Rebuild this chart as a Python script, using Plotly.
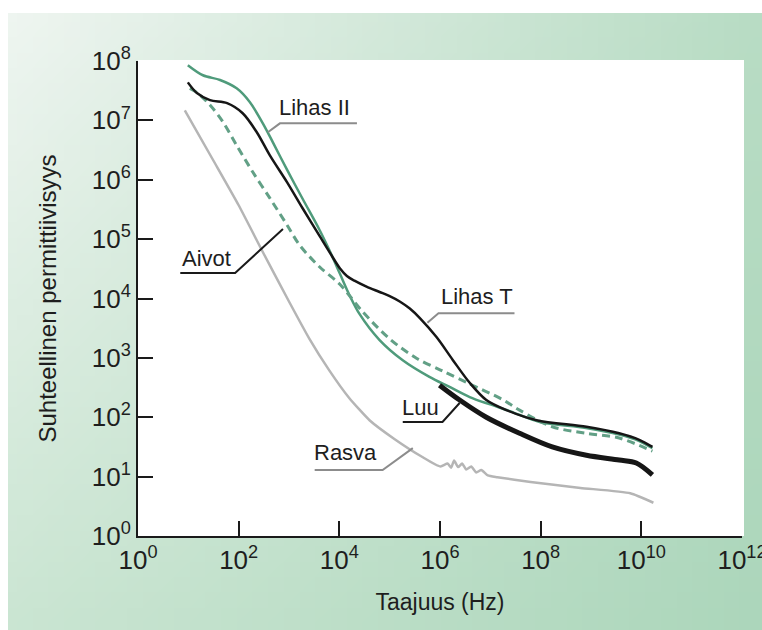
import base64
import struct
import zlib

import numpy as np
import plotly.graph_objects as go

# ---------------- data (log10 of frequency in Hz, log10 of relative permittivity) ----------------
lihas2_logf = [0.99, 1.29, 1.63, 1.96, 2.22, 2.48, 2.68, 2.96, 3.27, 3.61, 3.81, 4.01, 4.20, 4.40,
               4.80, 5.26, 5.79, 6.19, 6.59, 6.98, 7.40, 7.98, 8.90, 9.56, 9.96, 10.22]
lihas2_loge = [7.93, 7.76, 7.68, 7.54, 7.31, 6.95, 6.63, 6.17, 5.68, 5.15, 4.80, 4.42, 4.06, 3.74,
               3.30, 2.96, 2.68, 2.51, 2.34, 2.22, 2.10, 1.92, 1.82, 1.71, 1.60, 1.48]

lihast_logf = [0.99, 1.17, 1.43, 1.77, 2.08, 2.36, 2.62, 2.96, 3.27, 3.61, 3.85, 4.01, 4.15, 4.30,
               4.54, 4.80, 5.00, 5.20, 5.40, 5.60, 5.93, 6.25, 6.59, 6.92, 7.32, 7.92, 8.91, 9.56,
               9.96, 10.22]
lihast_loge = [7.64, 7.46, 7.34, 7.29, 7.12, 6.80, 6.41, 5.96, 5.52, 5.05, 4.72, 4.51, 4.38, 4.30,
               4.20, 4.11, 4.04, 3.95, 3.83, 3.67, 3.35, 2.97, 2.58, 2.29, 2.12, 1.95, 1.84, 1.73,
               1.62, 1.50]

aivot_logf = [1.03, 1.17, 1.43, 1.69, 1.96, 2.28, 2.62, 2.96, 3.21, 3.61, 4.01, 4.46, 5.00, 5.54,
              6.05, 6.59, 7.24, 7.58, 8.23, 8.91, 9.56, 10.22]
aivot_loge = [7.54, 7.47, 7.26, 6.97, 6.58, 6.13, 5.69, 5.24, 4.90, 4.53, 4.24, 3.78, 3.32, 2.99,
              2.78, 2.56, 2.30, 2.12, 1.84, 1.73, 1.65, 1.43]

luu_logf = [5.99, 6.39, 6.92, 7.58, 8.23, 8.91, 9.56, 9.90, 10.22]
luu_loge = [2.54, 2.29, 2.00, 1.73, 1.50, 1.36, 1.28, 1.23, 1.03]

rasva_logf = [0.93, 1.50, 2.00, 2.50, 3.00, 3.40, 3.80, 4.20, 4.60, 5.10, 5.65, 6.01,
              6.15, 6.22, 6.28, 6.36, 6.44, 6.52, 6.62, 6.72, 6.82, 6.95, 7.14, 7.80, 8.79, 9.78, 10.24]
rasva_loge = [7.17, 6.32, 5.57, 4.75, 3.95, 3.33, 2.79, 2.32, 1.95, 1.63, 1.33, 1.17,
              1.22, 1.15, 1.27, 1.16, 1.22, 1.12, 1.17, 1.07, 1.11, 1.02, 0.99, 0.91, 0.81, 0.72, 0.56]

x_tick_exp = [0, 2, 4, 6, 8, 10, 12]
y_tick_exp = [0, 1, 2, 3, 4, 5, 6, 7, 8]
x_title = "Taajuus (Hz)"
y_title = "Suhteellinen permittiivisyys"

# labels: text, label centre (log f, log eps), leader polyline (log f, log eps), leader colour
labels = [
    ("Lihas II", (3.51, 7.22), [(4.35, 6.95), (2.82, 6.95), (2.58, 6.80)], "#8c8c8c"),
    ("Aivot", (1.36, 4.68), [(1.93, 4.43), (0.84, 4.43), (1.93, 4.43), (2.88, 5.17)], "#1a1a1a"),
    ("Lihas T", (6.73, 4.04), [(7.48, 3.75), (5.97, 3.75), (5.75, 3.59)], "#8c8c8c"),
    ("Luu", (5.62, 2.17), [(5.26, 1.92), (6.05, 1.92), (6.39, 2.24)], "#1a1a1a"),
    ("Rasva", (4.13, 1.40), [(3.51, 1.11), (4.86, 1.11), (5.46, 1.48)], "#8c8c8c"),
]


def p10(a):
    return np.power(10.0, np.asarray(a, dtype=float))


# ---------------- background gradient image ----------------
def gradient_png(w, h):
    tl = np.array([238, 245, 240])
    tr = np.array([184, 220, 196])
    bl = np.array([202, 229, 210])
    br = np.array([172, 214, 187])
    raw = bytearray()
    for j in range(h):
        v = j / (h - 1)
        raw.append(0)
        for i in range(w):
            u = i / (w - 1)
            c = (1 - u) * (1 - v) * tl + u * (1 - v) * tr + (1 - u) * v * bl + u * v * br
            raw.extend(int(round(x)) for x in c)

    def chunk(tag, data):
        return (struct.pack(">I", len(data)) + tag + data +
                struct.pack(">I", zlib.crc32(tag + data) & 0xFFFFFFFF))

    png = (b"\x89PNG\r\n\x1a\n" +
           chunk(b"IHDR", struct.pack(">IIBBBBB", w, h, 8, 2, 0, 0, 0)) +
           chunk(b"IDAT", zlib.compress(bytes(raw))) +
           chunk(b"IEND", b""))
    return "data:image/png;base64," + base64.b64encode(png).decode()


W, H = 762, 630
ML, MR, MT, MB = 138, 20, 61, 94
PW, PH = W - ML - MR, H - MT - MB


def px_x(px):
    return (px - ML) / PW


def px_y(py):
    return (H - MB - py) / PH


FONT = "Liberation Sans, Arial, Helvetica, sans-serif"
TXT = "#1e1e1e"

fig = go.Figure()

fig.add_trace(go.Scatter(x=p10(rasva_logf), y=p10(rasva_loge), mode="lines", name="Rasva",
                         line=dict(color="#b5b5b5", width=2.5, shape="spline", smoothing=0.5)))
fig.add_trace(go.Scatter(x=p10(lihas2_logf), y=p10(lihas2_loge), mode="lines", name="Lihas II",
                         line=dict(color="#4f9b7b", width=2.5, shape="spline", smoothing=0.9)))
fig.add_trace(go.Scatter(x=p10(aivot_logf), y=p10(aivot_loge), mode="lines", name="Aivot",
                         line=dict(color="#62a086", width=3, dash="8px,5px", shape="spline",
                                   smoothing=0.9)))
fig.add_trace(go.Scatter(x=p10(luu_logf), y=p10(luu_loge), mode="lines", name="Luu",
                         line=dict(color="#161616", width=5, shape="spline", smoothing=0.9)))
fig.add_trace(go.Scatter(x=p10(lihast_logf), y=p10(lihast_loge), mode="lines", name="Lihas T",
                         line=dict(color="#161616", width=2.5, shape="spline", smoothing=0.9)))

annotations = []
for text, (lx, ly), leader, col in labels:
    fig.add_trace(go.Scatter(x=p10([p[0] for p in leader]), y=p10([p[1] for p in leader]),
                             mode="lines", line=dict(color=col, width=2), hoverinfo="skip",
                             showlegend=False))
    annotations.append(dict(x=lx, y=ly, xref="x", yref="y", text=text, showarrow=False,
                            xanchor="center", yanchor="middle",
                            font=dict(family=FONT, size=22, color=TXT)))

fig.update_layout(
    width=W, height=H,
    margin=dict(l=ML, r=MR, t=MT, b=MB, pad=0),
    paper_bgcolor="white", plot_bgcolor="white",
    showlegend=False,
    template="none",
    font=dict(family=FONT, color=TXT),
    annotations=annotations,
    images=[dict(source=gradient_png(48, 40), xref="paper", yref="paper",
                 x=px_x(8), y=px_y(13), sizex=(W - 8) / PW, sizey=(H - 13) / PH,
                 xanchor="left", yanchor="top", sizing="stretch", layer="below")],
    shapes=[dict(type="rect", xref="paper", yref="paper", x0=0, x1=px_x(744), y0=0,
                 y1=px_y(60), fillcolor="white", line=dict(width=0), layer="below")],
)

fig.update_xaxes(
    type="log", range=[0, 12], automargin=False,
    tickvals=p10(x_tick_exp), ticktext=[f"10<sup>{e}</sup>" for e in x_tick_exp],
    ticks="inside", ticklen=15, tickwidth=2, tickcolor="#1a1a1a",
    showline=True, linecolor="#1a1a1a", linewidth=2, mirror=False,
    showgrid=False, zeroline=False, ticklabeloverflow="allow",
    tickfont=dict(family=FONT, size=26, color=TXT),
    title=dict(text=x_title, font=dict(family=FONT, size=23, color=TXT), standoff=20),
)
fig.update_yaxes(
    type="log", range=[0, 8], automargin=False,
    tickvals=p10(y_tick_exp), ticktext=[f"10<sup>{e}</sup>" for e in y_tick_exp],
    ticks="inside", ticklen=15, tickwidth=2, tickcolor="#1a1a1a",
    showline=True, linecolor="#1a1a1a", linewidth=2, mirror=False,
    showgrid=False, zeroline=False, ticklabeloverflow="allow",
    tickfont=dict(family=FONT, size=26, color=TXT),
    title=dict(text=y_title, font=dict(family=FONT, size=24, color=TXT), standoff=28),
)

fig.write_html("out.html")
